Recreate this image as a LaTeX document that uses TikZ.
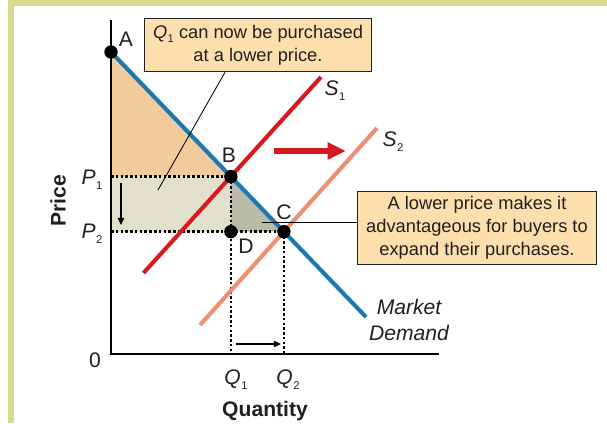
\documentclass[tikz,border=0pt]{standalone}
\usepackage{fontspec}
\setmainfont{Liberation Sans}
\usepackage{xcolor}
\usetikzlibrary{positioning, arrows.meta, calc}

\definecolor{framegreen}{HTML}{D8DC8E}
\definecolor{demandblue}{HTML}{1C78B4}
\definecolor{supplyred}{HTML}{D71920}
\definecolor{supplysalmon}{HTML}{EE8E72}
\definecolor{surplusorange}{HTML}{F2CB9C}
\definecolor{gainlight}{HTML}{E1E0CD}
\definecolor{gaindark}{HTML}{B9BAA8}
\definecolor{notefill}{HTML}{FDDFAE}
\definecolor{inkgray}{HTML}{231F20}

\newcommand{\lbl}[2]{\textit{#1}\kern0.3pt\raisebox{-0.45ex}{\fontsize{8}{9}\selectfont #2}}

\begin{document}
\begin{tikzpicture}[
        x=0.025cm, y=-0.025cm,
        font=\fontsize{13}{16.5}\selectfont,
        text=inkgray,
        curve/.style={line width=2.9pt, draw=#1},
        guide/.style={draw=black, line width=1.8pt, dash pattern=on 1.8pt off 1.6pt},
        dot/.style={circle, fill=black, inner sep=0pt, minimum size=9.5pt},
        tag/.style={font=\fontsize{15}{18}\selectfont},
        note/.style={draw=inkgray, fill=notefill, line width=0.8pt, align=center, inner sep=0pt},
        leader/.style={draw=black, line width=0.6pt},
        shiftarrow/.style={-{Triangle[length=5pt, width=4.5pt]}, line width=0.8pt},
    ]
    \useasboundingbox (0,0) rectangle (607,423);

    % Frame
    \fill[framegreen] (8,0) rectangle (607,423);
    \fill[white] (14,6) rectangle (607,423);

    % Curve ends
    \coordinate (A) at (111,52);
    \coordinate (dEnd) at (366,317);
    \coordinate (s1Lo) at (143.5,273);
    \coordinate (s1Hi) at (321,77);
    \coordinate (s2Lo) at (200,325);
    \coordinate (s2Hi) at (377,128);
    \coordinate (B) at (intersection of A--dEnd and s1Lo--s1Hi);
    \coordinate (C) at (intersection of A--dEnd and s2Lo--s2Hi);
    \coordinate (D) at (B |- C);
    \coordinate (O) at (111,354);
    \coordinate (P1) at (A |- B);
    \coordinate (P2) at (A |- C);
    \coordinate (Q1) at (O -| B);
    \coordinate (Q2) at (O -| C);

    % Shaded areas
    \fill[surplusorange] (A) -- (B) -- (P1) -- cycle;
    \fill[gainlight] (P1) rectangle (D);
    \fill[gaindark] (B) -- (C) -- (D) -- cycle;

    % Axes
    \draw[line width=0.9pt] (111,20) -- (O) -- (439,354);

    % Guides
    \draw[guide] (P1) -- (B);
    \draw[guide] (P2) -- (C);
    \draw[guide] (B) -- (Q1);
    \draw[guide] (C) -- (Q2);

    % Curves
    \draw[curve=demandblue] (A) -- (dEnd);
    \draw[curve=supplyred] (s1Lo) -- (s1Hi);
    \draw[curve=supplysalmon] (s2Lo) -- (s2Hi);

    % Points
    \node[dot] (ptA) at (A) {};
    \node[dot] (ptB) at (B) {};
    \node[dot] (ptC) at (C) {};
    \node[dot] (ptD) at (D) {};
    \node[tag] (lblA) at (126,39) {A};
    \node[tag] (lblB) at (229,155) {B};
    \node[tag] (lblC) at (284,212) {C};
    \node[tag] (lblD) at (246,246) {D};

    % Curve labels
    \node[tag] (lblS1) at (335,91) {\lbl{S}{1}};
    \node[tag] (lblS2) at (393,142) {\lbl{S}{2}};
    \node[align=center, font=\fontsize{15}{19}\selectfont\itshape] (lblDemand) at (409,320) {Market\\Demand};

    % Axis labels
    \node[tag] (lblP1) at (92,180) {\lbl{P}{1}};
    \node[tag] (lblP2) at (92,234) {\lbl{P}{2}};
    \node[tag] (lblO) at (95,360) {0};
    \node[tag] (lblQ1) at (236,380) {\lbl{Q}{1}};
    \node[tag] (lblQ2) at (288,380) {\lbl{Q}{2}};
    \node[font=\fontsize{15}{18}\selectfont\bfseries] (lblQty) at (265,411) {Quantity};
    \node[font=\fontsize{15}{18}\selectfont\bfseries, rotate=90] (lblPrice) at (58,201) {Price};

    % Shift arrows
    \coordinate (pFrom) at (121,183);
    \coordinate (pTo) at (121,225);
    \coordinate (qFrom) at (236,344);
    \coordinate (qTo) at (281,344);
    \draw[shiftarrow] (pFrom) -- (pTo);
    \draw[shiftarrow] (qFrom) -- (qTo);
    \coordinate (sFrom) at (274,151);
    \coordinate (sTo) at (346,151);
    \draw[supplyred, line width=3.6pt, -{Triangle[length=13pt, width=11.5pt]}] (sFrom) -- (sTo);

    % Notes
    \node[note, minimum width=162pt, minimum height=38pt] (noteQ) at (258,45)
        {\lbl{Q}{1} can now be purchased\\at a lower price.};
    \node[note, minimum width=170pt, minimum height=52pt] (noteBuy) at (477,228)
        {A lower price makes it\\advantageous for buyers to\\expand their purchases.};
    \coordinate (qTip) at (158,190);
    \draw[leader] (noteQ.south -| 225,0) -- (qTip);
    \coordinate (cTip) at (261.5,222.5);
    \draw[leader] (cTip) -- (cTip -| noteBuy.west);

\end{tikzpicture}
\end{document}
